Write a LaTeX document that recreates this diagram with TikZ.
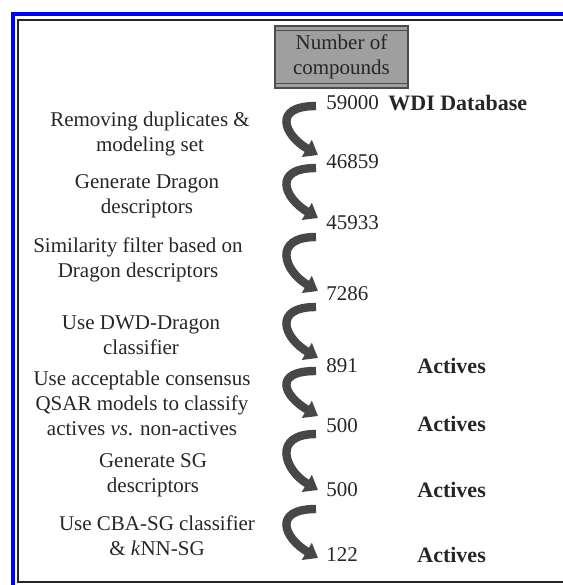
\documentclass[tikz,border=0pt]{standalone}
\usepackage{fontspec}
\setmainfont{Liberation Serif}
\newfontfamily\flowfont{Liberation Serif}
\usetikzlibrary{arrows.meta,positioning}

\begin{document}
\begin{tikzpicture}[
  x=0.5pt, y=-0.5pt,
  font=\flowfont\fontsize{10.5}{12.5}\selectfont,
  every node/.append style={text=black!85},
  stepbox/.style={align=center, inner sep=1pt},
  num/.style={anchor=west, inner sep=1pt},
  tag/.style={anchor=west, inner sep=1pt, font=\flowfont\fontsize{11}{13}\selectfont\bfseries},
  flow/.style={draw=black!72, line width=4.2pt, -{Triangle[length=6.5pt,width=9.5pt]}},
  headbox/.style={draw=black!70, line width=1.4pt, fill=gray!75, align=center,
    minimum width=66.5pt, minimum height=31pt, inner sep=1pt,
    path picture={
      \draw[black!70, line width=0.8pt]
        ([yshift=-2.2pt]path picture bounding box.north west) -- ([yshift=-2.2pt]path picture bounding box.north east)
        ([yshift=2.2pt]path picture bounding box.south west) -- ([yshift=2.2pt]path picture bounding box.south east);
    }}
]
\useasboundingbox (0,0) rectangle (563,585);

% frame
\draw[blue, line width=2pt] (13,585) -- (13,14) -- (563,14);
\draw[black!85, line width=1pt] (563,582) -- (18,582) -- (18,20) -- (563,20);

\node[headbox] (head) at (341.5,57) {Number of\\compounds};

% steps
\node[stepbox] (s1) at (150,134) {Removing duplicates \&\\modeling set};
\node[stepbox] (s2) at (147,196) {Generate Dragon\\descriptors};
\node[stepbox] (s3) at (138,260) {Similarity filter based on\\Dragon descriptors};
\node[stepbox] (s4) at (141,335) {Use DWD-Dragon\\classifier};
\node[stepbox] (s5) at (142,403) {Use acceptable consensus\\QSAR models to classify\\actives \textit{vs}. non-actives};
\node[stepbox] (s6) at (153,475) {Generate SG\\descriptors};
\node[stepbox] (s7) at (157,536) {Use CBA-SG classifier\\\& \textit{k}NN-SG};

% counts
\node[num] (n1) at (324,103) {59000};
\node[num] (n2) at (324,162) {46859};
\node[num] (n3) at (324,223) {45933};
\node[num] (n4) at (324,294) {7286};
\node[num] (n5) at (324,366) {891};
\node[num] (n6) at (324,426) {500};
\node[num] (n7) at (324,490) {500};
\node[num] (n8) at (324,555) {122};

\node[tag] (wdi) at (386,103) {WDI Database};
\node[tag] (act1) at (415,366) {Actives};
\node[tag] (act2) at (415,424) {Actives};
\node[tag] (act3) at (415,490) {Actives};
\node[tag] (act4) at (415,555) {Actives};

% curved arrows
\draw[flow] ([xshift=-4pt,yshift=-1.5pt]n1.west) .. controls +(-22pt,0) and +(-17pt,10pt) .. ([xshift=-3pt,yshift=3.5pt]n2.west);
\draw[flow] ([xshift=-4pt,yshift=-3pt]n2.west) .. controls +(-22pt,0) and +(-17pt,10pt) .. ([xshift=-3pt,yshift=2.5pt]n3.west);
\draw[flow] ([xshift=-4pt,yshift=-7pt]n3.west) .. controls +(-22pt,0) and +(-17pt,10pt) .. ([xshift=-3pt,yshift=1.5pt]n4.west);
\draw[flow] ([xshift=-4pt,yshift=-6.5pt]n4.west) .. controls +(-22pt,0) and +(-17pt,10pt) .. ([xshift=-3pt,yshift=4pt]n5.west);
\draw[flow] ([xshift=-4pt,yshift=-2.5pt]n5.west) .. controls +(-22pt,0) and +(-17pt,10pt) .. ([xshift=-3pt,yshift=5pt]n6.west);
\draw[flow] ([xshift=-4pt,yshift=-4pt]n6.west) .. controls +(-22pt,0) and +(-17pt,10pt) .. ([xshift=-3pt,yshift=0pt]n7.west);
\draw[flow] ([xshift=-4pt,yshift=-9.5pt]n7.west) .. controls +(-22pt,0) and +(-17pt,10pt) .. ([xshift=-3pt,yshift=-1.5pt]n8.west);

\end{tikzpicture}
\end{document}
